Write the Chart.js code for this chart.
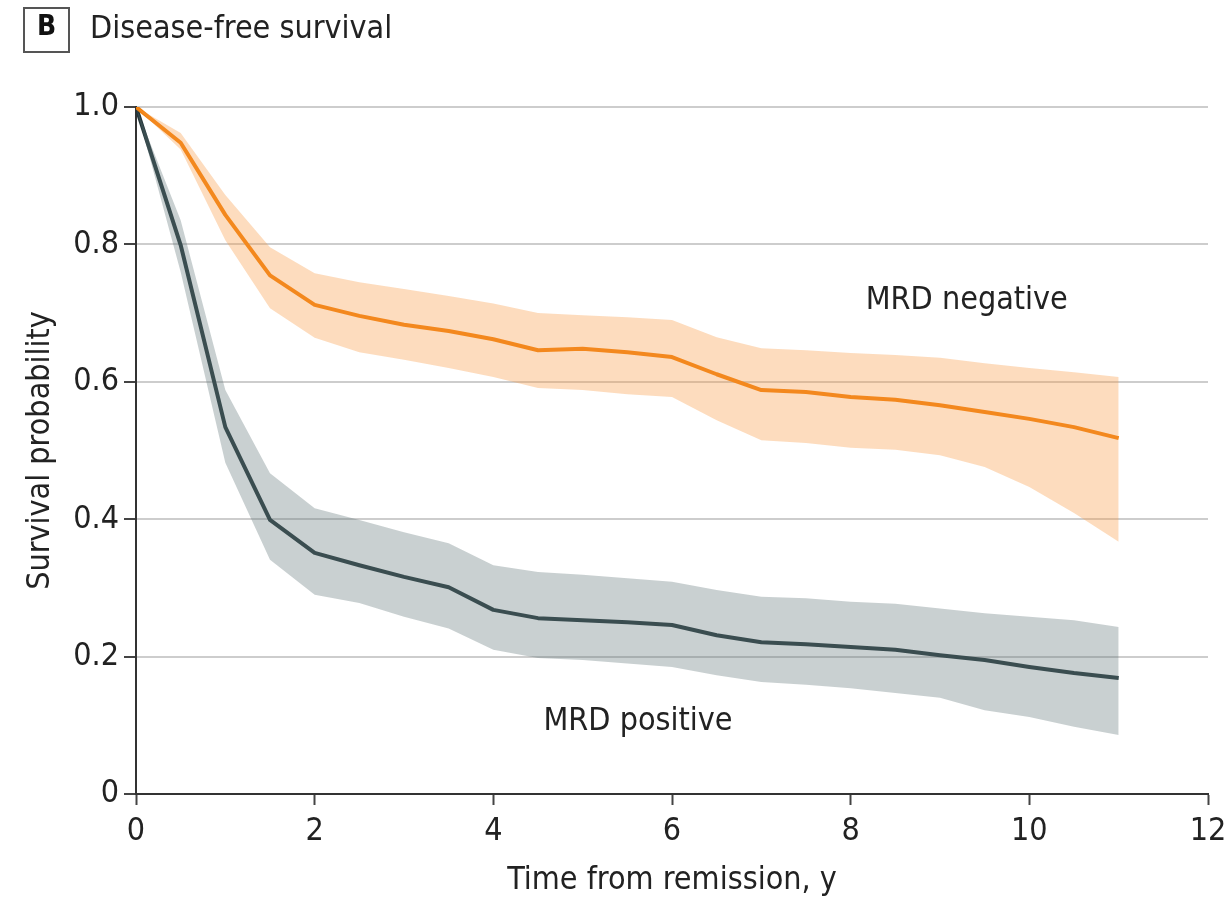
<!DOCTYPE html>
<html>
<head>
<meta charset="utf-8">
<script src="https://cdn.jsdelivr.net/npm/chart.js@4"></script>
<style>
  body { margin: 0; background: #fff; }
  #wrap { position: relative; width: 1230px; height: 902px; }
  #panel {
    position: absolute; left: 23px; top: 7px; width: 43px; height: 42px;
    border: 2px solid #555; text-align: center; line-height: 42px;
    font: bold 28px "Liberation Sans Narrow", "DejaVu Sans Condensed", sans-serif; color: #111;
  }
  #title {
    position: absolute; left: 90px; top: 8px; line-height: 46px;
    font: 32px "Liberation Sans Narrow", "DejaVu Sans Condensed", sans-serif; color: #222;
  }
  canvas { position: absolute; left: 0; top: 0; }
</style>
</head>
<body>
<div id="wrap">
  <canvas id="survivalChart" width="1230" height="902"></canvas>
  <div id="panel">B</div>
  <div id="title">Disease-free survival</div>
</div>
<script>
// === Data ===
const years = [0, 0.5, 1, 1.5, 2, 2.5, 3, 3.5, 4, 4.5, 5, 5.5, 6, 6.5, 7, 7.5, 8, 8.5, 9, 9.5, 10, 10.5, 11];

const negMid   = [1.0, 0.948, 0.843, 0.755, 0.712, 0.696, 0.683, 0.674, 0.662, 0.646, 0.648, 0.643, 0.636, 0.611, 0.588, 0.585, 0.578, 0.574, 0.566, 0.556, 0.546, 0.534, 0.518];
const negUpper = [1.0, 0.962, 0.872, 0.796, 0.758, 0.745, 0.735, 0.725, 0.714, 0.700, 0.697, 0.694, 0.690, 0.665, 0.649, 0.646, 0.642, 0.639, 0.635, 0.627, 0.620, 0.614, 0.607];
const negLower = [1.0, 0.938, 0.806, 0.707, 0.664, 0.643, 0.632, 0.620, 0.607, 0.591, 0.588, 0.582, 0.578, 0.544, 0.515, 0.511, 0.504, 0.501, 0.493, 0.476, 0.447, 0.409, 0.367];

const posMid   = [1.0, 0.799, 0.534, 0.399, 0.351, 0.333, 0.316, 0.301, 0.268, 0.256, 0.253, 0.250, 0.246, 0.231, 0.221, 0.218, 0.214, 0.210, 0.202, 0.195, 0.185, 0.176, 0.169];
const posUpper = [1.0, 0.835, 0.588, 0.467, 0.416, 0.399, 0.381, 0.365, 0.333, 0.323, 0.319, 0.314, 0.309, 0.297, 0.287, 0.285, 0.280, 0.277, 0.270, 0.263, 0.258, 0.253, 0.243];
const posLower = [1.0, 0.760, 0.482, 0.341, 0.290, 0.278, 0.258, 0.241, 0.210, 0.198, 0.195, 0.190, 0.185, 0.173, 0.163, 0.159, 0.154, 0.147, 0.140, 0.122, 0.112, 0.098, 0.086];

const xTicks = [0, 2, 4, 6, 8, 10, 12];
const yTicks = [0, 0.2, 0.4, 0.6, 0.8, 1.0];

const FONT = '"Liberation Sans Narrow", "DejaVu Sans Condensed", sans-serif';
const pts = arr => arr.map((v, i) => ({ x: years[i], y: v }));

// === Group labels drawn inside the plot ===
const groupLabels = {
  id: 'groupLabels',
  afterDatasetsDraw(chart) {
    const { ctx, scales: { x, y } } = chart;
    ctx.save();
    ctx.font = '32px ' + FONT;
    ctx.fillStyle = '#222';
    ctx.textAlign = 'center';
    ctx.textBaseline = 'middle';
    ctx.fillText('MRD negative', x.getPixelForValue(9.3), y.getPixelForValue(0.718));
    ctx.fillText('MRD positive', x.getPixelForValue(5.62), y.getPixelForValue(0.105));
    ctx.restore();
  }
};

const band = (data, color, fill) => ({
  data: pts(data), fill: fill, backgroundColor: color,
  borderWidth: 0, pointRadius: 0, tension: 0
});
const line = (data, color) => ({
  data: pts(data), fill: false, borderColor: color,
  borderWidth: 4, pointRadius: 0, tension: 0, borderJoinStyle: 'round'
});

new Chart(document.getElementById('survivalChart'), {
  type: 'line',
  data: {
    datasets: [
      band(negUpper, 'rgba(249,155,69,0.35)', '+1'),
      band(negLower, 'rgba(249,155,69,0.35)', false),
      band(posUpper, 'rgba(101,121,124,0.35)', '+1'),
      band(posLower, 'rgba(101,121,124,0.35)', false),
      line(negMid, '#f07f0a'),
      line(posMid, '#24363a')
    ]
  },
  options: {
    responsive: false,
    animation: false,
    layout: { padding: { top: 107, right: 22, left: 0, bottom: 0 } },
    plugins: { legend: { display: false }, tooltip: { enabled: false } },
    scales: {
      x: {
        type: 'linear', min: 0, max: 12,
        afterBuildTicks: s => { s.ticks = xTicks.map(v => ({ value: v })); },
        afterFit: s => { s.height = 108; s.paddingLeft = 0; s.paddingRight = 0; },
        grid: { drawOnChartArea: false, drawTicks: true, tickLength: 11, tickColor: '#444', tickWidth: 2 },
        border: { display: true, color: '#333', width: 2 },
        ticks: { color: '#222', font: { family: FONT, size: 32 }, padding: 7, maxRotation: 0 },
        title: { display: true, text: 'Time from remission, y', color: '#222',
                 font: { family: FONT, size: 32, lineHeight: 1.2 }, padding: { top: 0, bottom: 2 } }
      },
      y: {
        type: 'linear', min: 0, max: 1,
        afterBuildTicks: s => { s.ticks = yTicks.map(v => ({ value: v })); },
        afterFit: s => { s.width = 136; },
        grid: {
          color: c => (c.tick && c.tick.value === 0) ? 'rgba(0,0,0,0)' : '#cdcdcd',
          lineWidth: 2, tickLength: 12, tickColor: '#444', tickWidth: 2
        },
        border: { display: true, color: '#333', width: 2 },
        ticks: {
          color: '#222', font: { family: FONT, size: 32 }, padding: 5,
          callback: v => v === 0 ? '0' : v.toFixed(1)
        },
        title: { display: true, text: 'Survival probability', color: '#222',
                 font: { family: FONT, size: 32, lineHeight: 1.2 }, padding: { top: 21, bottom: 0 } }
      }
    }
  },
  plugins: [groupLabels]
});
</script>
</body>
</html>
